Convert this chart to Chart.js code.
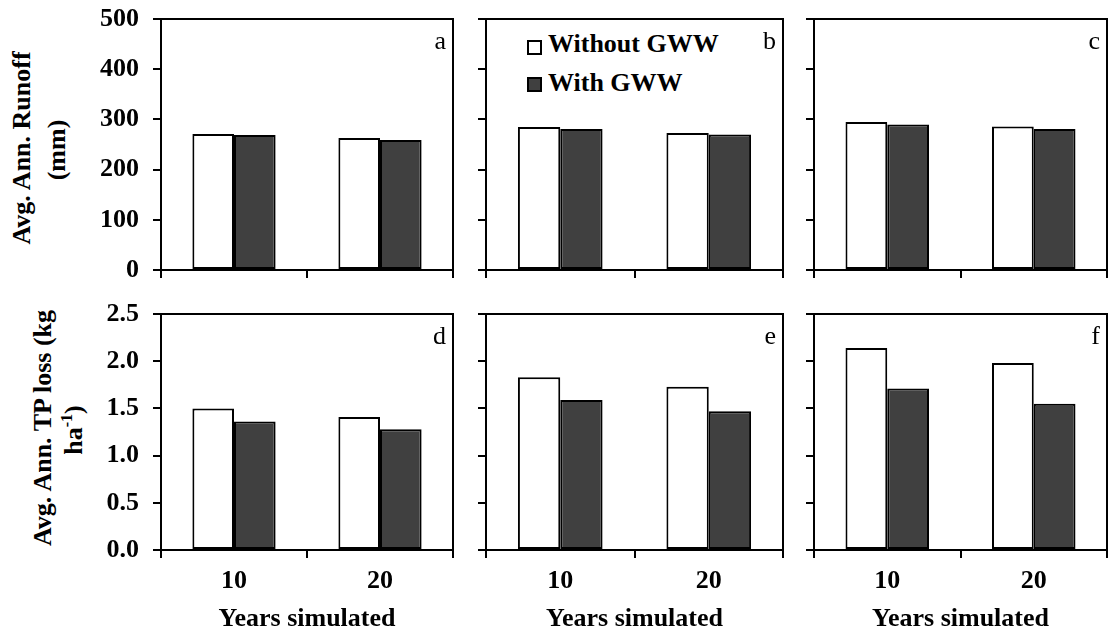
<!DOCTYPE html>
<html>
<head>
<meta charset="utf-8">
<script src="https://cdn.jsdelivr.net/npm/chart.js@4.4.1/dist/chart.umd.min.js"></script>
<style>
  body { margin: 0; background: #fff; }
  #wrap { position: relative; width: 1116px; height: 637px; overflow: hidden;
          font-family: "Liberation Serif", "Times New Roman", serif; color: #000; }
  #wrap canvas { position: absolute; }
  .ytitle { position: absolute; font-weight: bold; font-size: 26px; line-height: 1; white-space: nowrap;
            transform: translate(-50%, -50%) rotate(-90deg); }
  .ytitle sup { font-size: 0.62em; line-height: 0; }
  .legend { position: absolute; font-weight: bold; font-size: 26px; line-height: 26px; white-space: nowrap; }
  .swatch { position: absolute; width: 11px; height: 11px; border: 2px solid #000; }
</style>
</head>
<body>
<div id="wrap">
  <div class="ytitle" style="left:22px; top:148px;">Avg. Ann. Runoff</div>
  <div class="ytitle" style="left:57px; top:150px;">(mm)</div>
  <div class="ytitle" style="left:43px; top:428px;">Avg. Ann. TP loss (kg</div>
  <div class="ytitle" style="left:74px; top:430px;">ha<sup>-1</sup>)</div>

  <div class="swatch" style="left:527px; top:40px; background:#fff;"></div>
  <div class="legend" style="left:548px; top:31px;">Without GWW</div>
  <div class="swatch" style="left:527px; top:77px; background:#404040;"></div>
  <div class="legend" style="left:548px; top:70px;">With GWW</div>
</div>
<script>
// Data
const years = ['10', '20'];
const seriesNames = ['Without GWW', 'With GWW'];
// runoff (mm), panels a, b, c
const runoffWithout = [[271, 263], [285, 273], [295, 286]];
const runoffWith = [[269, 259], [281, 270], [290, 281]];
// TP loss (kg/ha), panels d, e, f
const tpWithout = [[1.50, 1.41], [1.83, 1.73], [2.14, 1.98]];
const tpWith = [[1.36, 1.28], [1.59, 1.47], [1.71, 1.55]];
// y axis: min, max, step
const runoffAxis = [0, 500, 100];
const tpAxis = [0, 2.5, 0.5];
const panelLetters = [['a', 'b', 'c'], ['d', 'e', 'f']];

// Layout of plot areas on the page
const colLeft = [161, 486, 814];
const colRight = [453, 783, 1107];
const rowTop = [19, 314];
const rowBottom = [270, 550];

const serif = '"Liberation Serif", "Times New Roman", serif';
const wrap = document.getElementById('wrap');
const charts = [];

// draws the top/right frame and the panel letter
const boxPlugin = {
    id: 'panelBox',
    afterDraw(chart, args, opts) {
        const { ctx, chartArea } = chart;
        ctx.save();
        ctx.strokeStyle = '#000';
        ctx.lineWidth = 2;
        ctx.beginPath();
        ctx.moveTo(chartArea.left, chartArea.top);
        ctx.lineTo(chartArea.right, chartArea.top);
        ctx.lineTo(chartArea.right, chartArea.bottom);
        ctx.stroke();
        ctx.fillStyle = '#000';
        ctx.font = '26px ' + serif;
        ctx.textAlign = 'right';
        ctx.textBaseline = 'alphabetic';
        ctx.fillText(opts.letter, chartArea.right - 7, chartArea.top + 30);
        ctx.restore();
    }
};

const makePanel = (row, col) => {
    const first = col === 0;
    const bottom = row === 1;
    const yW = first ? 80 : 14;
    const padT = 36, padR = 6;
    const xH = bottom ? 85 : 12;
    const padB = bottom ? 0 : 26;
    const w = yW + colRight[col] - colLeft[col] + padR;
    const h = padT + rowBottom[row] - rowTop[row] + xH + padB;

    const canvas = document.createElement('canvas');
    canvas.width = w;
    canvas.height = h;
    canvas.style.left = (colLeft[col] - yW) + 'px';
    canvas.style.top = (rowTop[row] - padT) + 'px';
    wrap.appendChild(canvas);

    const axis = bottom ? tpAxis : runoffAxis;
    const without = bottom ? tpWithout[col] : runoffWithout[col];
    const withG = bottom ? tpWith[col] : runoffWith[col];
    const tickFont = { family: serif, size: 26, weight: 'bold' };

    charts.push(new Chart(canvas, {
        type: 'bar',
        data: {
            labels: years,
            datasets: [
                { label: seriesNames[0], data: without, backgroundColor: '#ffffff',
                  borderColor: '#000', borderWidth: 2, borderSkipped: false },
                { label: seriesNames[1], data: withG, backgroundColor: '#404040',
                  borderColor: '#000', borderWidth: 2, borderSkipped: false }
            ]
        },
        options: {
            responsive: false,
            animation: false,
            layout: { padding: { top: padT, right: padR, bottom: padB, left: 0 } },
            datasets: { bar: { categoryPercentage: 0.57, barPercentage: 1 } },
            plugins: {
                legend: { display: false },
                tooltip: { enabled: false },
                panelBox: { letter: panelLetters[row][col] }
            },
            scales: {
                x: {
                    offset: true,
                    grid: { offset: true, drawOnChartArea: false, drawTicks: true, tickLength: 8,
                            color: '#000', lineWidth: 2 },
                    border: { display: true, color: '#000', width: 2 },
                    ticks: { display: bottom, color: '#000', font: tickFont, padding: 8 },
                    title: { display: bottom, text: 'Years simulated', color: '#000', font: tickFont,
                             padding: { top: 0, bottom: 0 } },
                    afterFit: (s) => { s.height = xH; }
                },
                y: {
                    min: axis[0],
                    max: axis[1],
                    ticks: {
                        display: first, stepSize: axis[2], color: '#000', font: tickFont, padding: 14,
                        callback: (v) => bottom ? v.toFixed(1) : v
                    },
                    grid: { drawOnChartArea: false, drawTicks: true, tickLength: 8, color: '#000', lineWidth: 2 },
                    border: { display: true, color: '#000', width: 2 },
                    afterFit: (s) => { s.width = yW; }
                }
            }
        },
        plugins: [boxPlugin]
    }));
};

for (let r = 0; r < 2; r++) {
    for (let c = 0; c < 3; c++) {
        makePanel(r, c);
    }
}

// redraw once the serif font is surely available to the canvas
Promise.all([
    document.fonts.load('bold 26px "Liberation Serif"'),
    document.fonts.load('26px "Liberation Serif"')
]).then(() => charts.forEach(ch => ch.update()));
</script>
</body>
</html>
